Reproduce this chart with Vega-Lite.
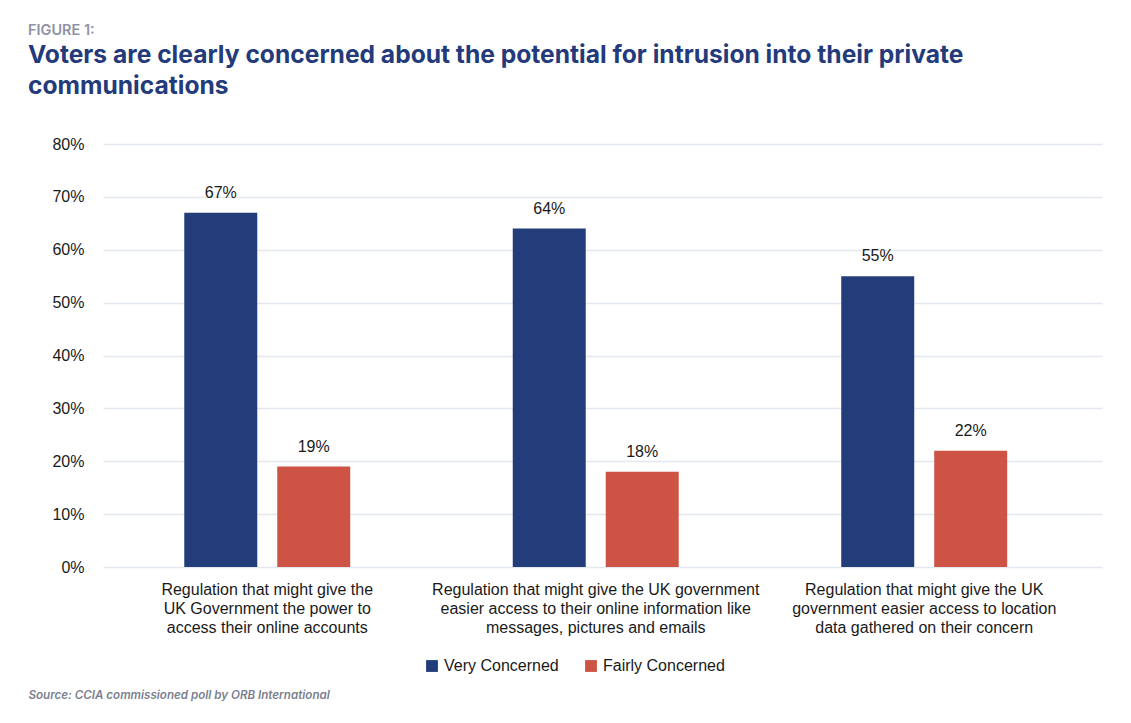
{
  "$schema": "https://vega.github.io/schema/vega-lite/v6.json",
  "autosize": {"type": "none"},
  "width": 999,
  "height": 423,
  "padding": {"left": 103, "top": 144, "right": 29, "bottom": 156},
  "background": "white",
  "title": {
    "text": "FIGURE 1:",
    "subtitle": ["Voters are clearly concerned about the potential for intrusion into their private", "communications"],
    "anchor": "start",
    "frame": "group",
    "dx": -75,
    "offset": 36,
    "font": "Inter",
    "fontSize": 14.5,
    "fontWeight": 600,
    "color": "#8d93a5",
    "subtitleFont": "Inter",
    "subtitleFontSize": 24.6,
    "subtitleFontWeight": "bold",
    "subtitleColor": "#233a7b",
    "subtitleLineHeight": 31,
    "subtitlePadding": 6
  },
  "data": {
    "values": [
      {"group": "Regulation that might give the|UK Government the power to|access their online accounts", "series": "Very Concerned", "value": 0.67},
      {"group": "Regulation that might give the|UK Government the power to|access their online accounts", "series": "Fairly Concerned", "value": 0.19},
      {"group": "Regulation that might give the UK government|easier access to their online information like|messages, pictures and emails", "series": "Very Concerned", "value": 0.64},
      {"group": "Regulation that might give the UK government|easier access to their online information like|messages, pictures and emails", "series": "Fairly Concerned", "value": 0.18},
      {"group": "Regulation that might give the UK|government easier access to location|data gathered on their concern", "series": "Very Concerned", "value": 0.55},
      {"group": "Regulation that might give the UK|government easier access to location|data gathered on their concern", "series": "Fairly Concerned", "value": 0.22}
    ]
  },
  "encoding": {
    "x": {
      "field": "group",
      "type": "nominal",
      "sort": null,
      "scale": {"paddingInner": 0, "paddingOuter": 0.0206, "align": 0},
      "axis": {
        "title": "Source: CCIA commissioned poll by ORB International",
        "titleX": -75,
        "titleY": 131,
        "titleAlign": "left",
        "titleAnchor": null,
        "titleBaseline": "alphabetic",
        "titleFont": "Inter",
        "titleFontSize": 11.6,
        "titleFontWeight": 600,
        "titleFontStyle": "italic",
        "titleColor": "#7a7f90",
        "labelExpr": "split(datum.label, '|')",
        "labelAngle": 0,
        "labelLimit": 0,
        "labelFont": "Liberation Sans",
        "labelFontSize": 16,
        "labelColor": "#1a1a1a",
        "labelLineHeight": 19,
        "labelPadding": 14,
        "ticks": false,
        "domain": false,
        "grid": false
      }
    },
    "xOffset": {
      "field": "series",
      "type": "nominal",
      "sort": ["Very Concerned", "Fairly Concerned"],
      "scale": {"paddingInner": 0.215, "paddingOuter": 0.874}
    },
    "y": {
      "field": "value",
      "type": "quantitative",
      "scale": {"domain": [0, 0.8]},
      "axis": {
        "title": null,
        "format": ".0%",
        "values": [0, 0.1, 0.2, 0.3, 0.4, 0.5, 0.6, 0.7, 0.8],
        "labelFont": "Liberation Sans",
        "labelFontSize": 16,
        "labelColor": "#1a1a1a",
        "labelPadding": 19,
        "ticks": false,
        "domain": false,
        "gridColor": "#e3e7f0",
        "gridWidth": 1.5
      }
    }
  },
  "layer": [
    {
      "mark": {"type": "bar"},
      "encoding": {
        "color": {
          "field": "series",
          "type": "nominal",
          "sort": ["Very Concerned", "Fairly Concerned"],
          "scale": {"domain": ["Very Concerned", "Fairly Concerned"], "range": ["#233d7b", "#cd5444"]},
          "legend": {
            "title": null,
            "orient": "none",
            "direction": "horizontal",
            "legendX": 321,
            "legendY": 514,
            "symbolType": "square",
            "symbolSize": 140,
            "symbolStrokeWidth": 0,
            "labelFont": "Liberation Sans",
            "labelFontSize": 16,
            "labelColor": "#1a1a1a",
            "labelOffset": 4,
            "columnPadding": 24
          }
        }
      }
    },
    {
      "mark": {"type": "text", "baseline": "bottom", "dy": -12, "font": "Liberation Sans", "fontSize": 16, "color": "#1a1a1a"},
      "encoding": {
        "text": {"field": "value", "type": "quantitative", "format": ".0%"}
      }
    }
  ],
  "config": {"view": {"stroke": null}}
}
